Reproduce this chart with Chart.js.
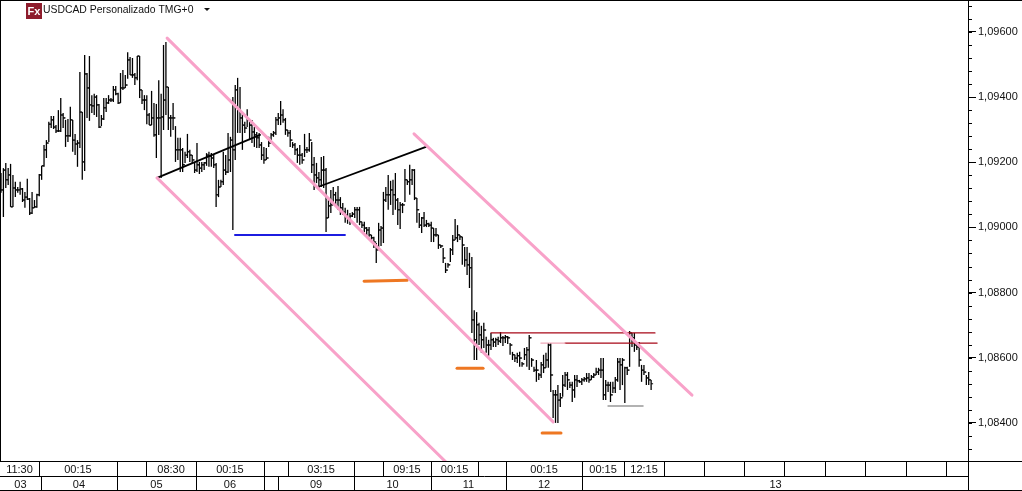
<!DOCTYPE html>
<html lang="pt-BR">
<head>
  <meta charset="UTF-8">
  <title>USDCAD Personalizado TMG+0</title>
  <script src="https://cdn.jsdelivr.net/npm/chart.js"></script>
  <style>
    html, body { margin: 0; padding: 0; background: #fff; }
    #box { position: relative; width: 1022px; height: 491px; }
  </style>
</head>
<body>
  <div id="box"><canvas id="grafico"></canvas></div>

  <script>
    // price series, one value per bar
    const highs = [
      1.09167,1.09182,1.09198,1.09182,1.09195,1.09161,1.09140,1.09124,1.09140,1.09121,
      1.09109,1.09149,1.09090,1.09109,1.09084,1.09103,1.09164,1.09189,1.09253,1.09268,
      1.09324,1.09342,1.09342,1.09314,1.09360,1.09397,1.09351,1.09330,1.09333,1.09370,
      1.09330,1.09287,1.09268,1.09477,1.09354,1.09529,1.09474,1.09526,1.09406,1.09410,
      1.09406,1.09379,1.09345,1.09397,1.09397,1.09406,1.09397,1.09434,1.09434,1.09413,
      1.09474,1.09483,1.09468,1.09538,1.09523,1.09520,1.09474,1.09526,1.09526,1.09422,
      1.09406,1.09406,1.09351,1.09419,1.09382,1.09379,1.09452,1.09410,1.09560,1.09569,
      1.09431,1.09345,1.09382,1.09311,1.09275,1.09275,1.09244,1.09232,1.09287,1.09238,
      1.09222,1.09201,1.09259,1.09201,1.09201,1.09201,1.09228,1.09232,1.09228,1.09222,
      1.09198,1.09146,1.09146,1.09232,1.09222,1.09290,1.09278,1.09400,1.09437,1.09459,
      1.09431,1.09354,1.09324,1.09363,1.09330,1.09330,1.09308,1.09293,1.09290,1.09262,
      1.09247,1.09244,1.09278,1.09290,1.09296,1.09339,1.09351,1.09388,1.09363,1.09336,
      1.09299,1.09299,1.09262,1.09259,1.09244,1.09253,1.09228,1.09287,1.09247,1.09290,
      1.09262,1.09216,1.09198,1.09170,1.09216,1.09219,1.09182,1.09084,1.09115,1.09124,
      1.09109,1.09127,1.09093,1.09075,1.09060,1.09054,1.09044,1.09047,1.09063,1.09063,
      1.09063,1.09017,1.09017,1.09001,1.09001,1.08977,1.08971,1.08952,1.09014,1.09004,
      1.09109,1.09124,1.09161,1.09143,1.09146,1.09167,1.09090,1.09078,1.09075,1.09179,
      1.09146,1.09192,1.09179,1.09179,1.09090,1.09044,1.09032,1.09047,1.09023,1.09014,
      1.09017,1.08998,1.08998,1.08977,1.08946,1.08937,1.08891,1.08891,1.08937,1.08977,
      1.09026,1.09007,1.08977,1.08971,1.08940,1.08940,1.08922,1.08909,1.08746,1.08740,
      1.08707,1.08698,1.08707,1.08664,1.08655,1.08676,1.08661,1.08661,1.08664,1.08679,
      1.08667,1.08670,1.08667,1.08645,1.08618,1.08609,1.08615,1.08618,1.08587,1.08630,
      1.08633,1.08670,1.08599,1.08572,1.08593,1.08553,1.08587,1.08609,1.08615,1.08645,
      1.08645,1.08501,1.08501,1.08516,1.08492,1.08547,1.08556,1.08556,1.08526,1.08526,
      1.08547,1.08547,1.08532,1.08538,1.08541,1.08553,1.08553,
      1.08547,1.08553,1.08569,1.08569,
      1.08599,1.08599,1.08532,1.08526,1.08526,1.08526,1.08541,
      1.08599,1.08599,1.08599,1.08572,1.08572,1.08682,1.08676,1.08676,1.08645,1.08648,
      1.08578,1.08578,1.08547,1.08556,1.08532
    ];
    const lows = [
      1.09106,1.09032,1.09121,1.09130,1.09063,1.09063,1.09093,1.09106,1.09100,1.09078,
      1.09060,1.09084,1.09038,1.09041,1.09060,1.09060,1.09096,1.09146,1.09186,1.09213,
      1.09262,1.09305,1.09302,1.09290,1.09293,1.09293,1.09305,1.09247,1.09262,1.09278,
      1.09232,1.09222,1.09186,1.09244,1.09146,1.09173,1.09336,1.09327,1.09351,1.09345,
      1.09339,1.09305,1.09311,1.09330,1.09354,1.09379,1.09385,1.09385,1.09406,1.09379,
      1.09382,1.09422,1.09428,1.09456,1.09468,1.09459,1.09437,1.09452,1.09397,1.09379,
      1.09360,1.09317,1.09314,1.09314,1.09278,1.09213,1.09284,1.09152,1.09299,1.09345,
      1.09299,1.09278,1.09299,1.09201,1.09207,1.09170,1.09170,1.09198,1.09213,1.09201,
      1.09198,1.09167,1.09170,1.09164,1.09170,1.09176,1.09189,1.09186,1.09186,1.09182,
      1.09063,1.09093,1.09124,1.09130,1.09161,1.09167,1.09170,1.08992,1.09207,1.09290,
      1.09290,1.09238,1.09290,1.09308,1.09268,1.09259,1.09247,1.09244,1.09244,1.09207,
      1.09195,1.09207,1.09247,1.09268,1.09278,1.09284,1.09314,1.09314,1.09321,1.09284,
      1.09278,1.09247,1.09244,1.09222,1.09198,1.09192,1.09195,1.09216,1.09228,1.09232,
      1.09167,1.09115,1.09136,1.09115,1.09124,1.09121,1.08986,1.09029,1.09044,1.09069,
      1.09063,1.09054,1.09038,1.09038,1.09014,1.09011,1.09007,1.09032,1.09029,1.09014,
      1.09007,1.08998,1.08986,1.08977,1.08971,1.08961,1.08937,1.08891,1.08940,1.08943,
      1.08952,1.09078,1.09054,1.09069,1.09038,1.09054,1.09007,1.08995,1.09044,1.09078,
      1.09130,1.09100,1.09130,1.09084,1.09014,1.08998,1.08983,1.09001,1.09001,1.09001,
      1.08955,1.08955,1.08971,1.08934,1.08937,1.08891,1.08860,1.08876,1.08894,1.08915,
      1.08961,1.08955,1.08961,1.08885,1.08879,1.08854,1.08814,1.08676,1.08593,1.08593,
      1.08639,1.08615,1.08630,1.08615,1.08606,1.08624,1.08633,1.08633,1.08639,1.08645,
      1.08636,1.08645,1.08642,1.08609,1.08593,1.08587,1.08584,1.08572,1.08572,1.08593,
      1.08572,1.08562,1.08572,1.08556,1.08526,1.08532,1.08538,1.08553,1.08569,1.08569,
      1.08495,1.08415,1.08400,1.08400,1.08449,1.08480,1.08510,1.08501,1.08507,1.08464,
      1.08477,1.08510,1.08523,1.08516,1.08526,1.08526,1.08523,
      1.08532,1.08538,1.08547,1.08547,
      1.08538,1.08470,1.08470,1.08495,1.08464,1.08492,1.08492,
      1.08526,1.08501,1.08516,1.08461,1.08547,1.08572,1.08633,1.08618,1.08624,1.08572,
      1.08526,1.08547,1.08516,1.08516,1.08501
    ];
    const closes = [
      1.09115,1.09176,1.09146,1.09161,1.09063,1.09121,1.09115,1.09115,1.09118,1.09084,
      1.09093,1.09087,1.09044,1.09060,1.09063,1.09100,1.09161,1.09189,1.09238,1.09259,
      1.09317,1.09330,1.09308,1.09296,1.09296,1.09345,1.09336,1.09281,1.09281,1.09330,
      1.09268,1.09256,1.09259,1.09354,1.09201,1.09471,1.09428,1.09376,1.09373,1.09400,
      1.09376,1.09308,1.09333,1.09367,1.09382,1.09391,1.09391,1.09422,1.09410,1.09382,
      1.09428,1.09428,1.09437,1.09514,1.09468,1.09468,1.09459,1.09526,1.09422,1.09391,
      1.09391,1.09345,1.09314,1.09336,1.09284,1.09336,1.09336,1.09339,1.09391,1.09431,
      1.09336,1.09336,1.09336,1.09238,1.09238,1.09238,1.09192,1.09222,1.09232,1.09222,
      1.09207,1.09176,1.09192,1.09182,1.09192,1.09198,1.09222,1.09219,1.09213,1.09192,
      1.09100,1.09124,1.09140,1.09176,1.09170,1.09207,1.09268,1.09238,1.09422,1.09360,
      1.09336,1.09314,1.09305,1.09330,1.09314,1.09293,1.09284,1.09275,1.09253,1.09222,
      1.09207,1.09213,1.09259,1.09284,1.09290,1.09330,1.09336,1.09345,1.09330,1.09299,
      1.09290,1.09268,1.09253,1.09238,1.09222,1.09222,1.09207,1.09238,1.09238,1.09268,
      1.09192,1.09161,1.09152,1.09146,1.09176,1.09176,1.09029,1.09066,1.09069,1.09100,
      1.09084,1.09084,1.09060,1.09047,1.09038,1.09029,1.09035,1.09041,1.09054,1.09054,
      1.09017,1.09007,1.08998,1.08992,1.08977,1.08968,1.08955,1.08931,1.08992,1.08998,
      1.09084,1.09100,1.09100,1.09115,1.09100,1.09084,1.09054,1.09069,1.09069,1.09146,
      1.09140,1.09146,1.09176,1.09090,1.09054,1.09007,1.09029,1.09007,1.09011,1.09007,
      1.08998,1.08977,1.08977,1.08946,1.08943,1.08906,1.08869,1.08885,1.08931,1.08961,
      1.08968,1.08977,1.08971,1.08946,1.08900,1.08885,1.08876,1.08716,1.08655,1.08701,
      1.08670,1.08655,1.08685,1.08639,1.08639,1.08655,1.08648,1.08655,1.08651,1.08661,
      1.08661,1.08664,1.08661,1.08639,1.08609,1.08599,1.08606,1.08599,1.08581,1.08609,
      1.08624,1.08661,1.08593,1.08562,1.08562,1.08547,1.08578,1.08569,1.08593,1.08639,
      1.08547,1.08486,1.08486,1.08470,1.08477,1.08516,1.08547,1.08532,1.08516,1.08501,
      1.08532,1.08529,1.08526,1.08532,1.08535,1.08538,1.08532,
      1.08541,1.08547,1.08556,1.08562,
      1.08562,1.08486,1.08516,1.08516,1.08486,1.08507,1.08532,
      1.08587,1.08578,1.08593,1.08569,1.08562,1.08676,1.08661,1.08639,1.08633,1.08593,
      1.08562,1.08556,1.08538,1.08532,1.08520
    ];

    const yTicks = [1.084, 1.086, 1.088, 1.090, 1.092, 1.094, 1.096];
    const yMinorTicks = [1.0832, 1.0836, 1.084, 1.0844, 1.0848, 1.0852, 1.0856, 1.086, 1.0864, 1.0868, 1.0872, 1.0876,
      1.088, 1.0884, 1.0888, 1.0892, 1.0896, 1.09, 1.0904, 1.0908, 1.0912, 1.0916, 1.092, 1.0924, 1.0928, 1.0932,
      1.0936, 1.094, 1.0944, 1.0948, 1.0952, 1.0956, 1.096, 1.0964, 1.0968];

    // time row: cell edges in bar numbers and the text of each cell
    const timeEdges = [-0.42, 15.9, 48.5, 60.7, 81.6, 110, 120.1, 147.7, 159.8, 179.9, 199.6, 211.3, 243.1, 260.7,
      277.4, 294.1, 310.9, 327.6, 344.8, 361.5, 378.7, 395.4, 405];
    const timeLabels = ['11:30', '00:15', '', '08:30', '00:15', '', '03:15', '', '09:15', '00:15', '', '00:15', '00:15', '12:15',
      '', '', '', '', '', '', '', ''];
    // day row
    const dayEdges = [-0.42, 16.7, 48.5, 81.6, 110, 115.9, 147.7, 179.9, 211.3, 243.1, 405];
    const dayLabels = ['03', '04', '05', '06', '', '09', '10', '11', '12', '13'];

    // drawn lines: bar numbers and prices of the two ends
    const channelLowBars = [65.3, 190];
    const channelLowPrices = [1.09152, 1.08252];
    const channelMidBars = [69.5, 231];
    const channelMidPrices = [1.09581, 1.08403];
    const channelTopBars = [172.8, 289.1];
    const channelTopPrices = [1.09287, 1.08485];
    const blackABars = [65.3, 108.4];
    const blackAPrices = [1.09152, 1.09284];
    const blackBBars = [132.6, 177.8];
    const blackBPrices = [1.09124, 1.09247];
    const blueBars = [97.9, 143.9];
    const bluePrices = [1.08977, 1.08977];
    const orangeABars = [151.9, 169.9];
    const orangeAPrices = [1.08835, 1.08838];
    const orangeBBars = [190.8, 201.7];
    const orangeBPrices = [1.08568, 1.08568];
    const orangeCBars = [226.4, 234.3];
    const orangeCPrices = [1.08369, 1.08369];
    const redABars = [205, 273.6];
    const redAPrices = [1.08676, 1.08676];
    const redBBars = [236, 274.5];
    const redBPrices = [1.08645, 1.08645];
    const paleBars = [225.9, 236];
    const palePrices = [1.08645, 1.08645];
    const grayBars = [254, 268.6];
    const grayPrices = [1.08452, 1.08452];

    function linha(bars, prices, cor, largura) {
      return {
        type: 'line',
        data: bars.map((b, i) => ({ x: b, y: prices[i] })),
        borderColor: cor,
        borderWidth: largura,
        pointRadius: 0,
        borderCapStyle: 'round',
        order: 0
      };
    }

    const FONTE = '11px "Liberation Sans"';

    // grid under the chart, left/top frame, minor ticks and the header
    const moldura = {
      id: 'moldura',
      afterDraw(chart) {
        const ctx = chart.ctx;
        const area = chart.chartArea;
        const x = chart.scales.x;
        const y = chart.scales.y;
        const W = chart.width;
        const yLinha1 = Math.round(area.bottom) + 0.5;
        const yLinha2 = yLinha1 + 15;
        const yLinha3 = yLinha1 + 29;

        ctx.save();
        ctx.strokeStyle = '#000';
        ctx.lineWidth = 1;
        ctx.beginPath();
        ctx.moveTo(0, 0.5); ctx.lineTo(W, 0.5);
        ctx.moveTo(0.5, 0); ctx.lineTo(0.5, yLinha1);
        ctx.moveTo(0, yLinha1); ctx.lineTo(W, yLinha1);
        ctx.moveTo(0, yLinha2); ctx.lineTo(area.right, yLinha2);
        ctx.moveTo(0, yLinha3); ctx.lineTo(W, yLinha3);
        ctx.moveTo(Math.round(area.right) - 0.5, 0); ctx.lineTo(Math.round(area.right) - 0.5, yLinha3);
        timeEdges.slice(1, -1).forEach(e => {
          const p = Math.round(x.getPixelForValue(e)) + 0.5;
          ctx.moveTo(p, yLinha1); ctx.lineTo(p, yLinha2);
        });
        dayEdges.slice(1, -1).forEach(e => {
          const p = Math.round(x.getPixelForValue(e)) + 0.5;
          ctx.moveTo(p, yLinha2); ctx.lineTo(p, yLinha3);
        });
        yMinorTicks.forEach(v => {
          const p = Math.round(y.getPixelForValue(v)) + 0.5;
          ctx.moveTo(area.right - 1, p); ctx.lineTo(area.right + 3, p);
        });
        ctx.stroke();

        ctx.fillStyle = '#111';
        ctx.font = FONTE;
        ctx.textAlign = 'center';
        ctx.textBaseline = 'middle';
        timeLabels.forEach((t, i) => {
          const c = (x.getPixelForValue(timeEdges[i]) + x.getPixelForValue(timeEdges[i + 1])) / 2;
          ctx.fillText(t, c, yLinha1 + 8);
        });
        dayLabels.forEach((t, i) => {
          const c = (x.getPixelForValue(dayEdges[i]) + x.getPixelForValue(dayEdges[i + 1])) / 2;
          ctx.fillText(t, c, yLinha2 + 8);
        });

        // header
        ctx.fillStyle = '#8e1c2c';
        ctx.fillRect(26, 3, 16, 16);
        ctx.fillStyle = '#fff';
        ctx.font = 'bold 11px "Liberation Sans"';
        ctx.fillText('Fx', 34, 12);
        ctx.fillStyle = '#111';
        ctx.font = '10.4px "Liberation Sans"';
        ctx.textAlign = 'left';
        ctx.fillText('USDCAD Personalizado TMG+0', 43, 10.5);
        ctx.beginPath();
        ctx.moveTo(204, 8); ctx.lineTo(210, 8); ctx.lineTo(207, 11);
        ctx.closePath();
        ctx.fill();
        ctx.restore();
      }
    };

    new Chart(document.getElementById('grafico'), {
      type: 'bar',
      data: {
        datasets: [
          linha(channelLowBars, channelLowPrices, '#f8a2c9', 3),
          linha(channelMidBars, channelMidPrices, '#f8a2c9', 3),
          linha(channelTopBars, channelTopPrices, '#f8a2c9', 3),
          linha(blackABars, blackAPrices, '#000', 1.8),
          linha(blackBBars, blackBPrices, '#000', 1.8),
          linha(blueBars, bluePrices, '#1c1ce0', 2),
          linha(orangeABars, orangeAPrices, '#ee7722', 3),
          linha(orangeBBars, orangeBPrices, '#ee7722', 3),
          linha(orangeCBars, orangeCPrices, '#ee7722', 3),
          linha(redABars, redAPrices, '#a80818', 1.3),
          linha(paleBars, palePrices, '#f0a8b8', 1.3),
          linha(redBBars, redBPrices, '#a80818', 1.3),
          linha(grayBars, grayPrices, '#999', 1.5),
          {
            type: 'bar',
            data: highs.map((h, i) => ({ x: i, y: [lows[i], h] })),
            backgroundColor: '#000',
            barThickness: 1.3,
            inflateAmount: 0,
            order: 1
          },
          {
            // close tick, to the right of the bar
            type: 'line',
            data: closes.map((c, i) => ({ x: i, y: c })),
            showLine: false,
            pointStyle: 'dash',
            pointRadius: 2,
            pointRotation: 0,
            pointBorderWidth: 1,
            pointBorderColor: '#000',
            order: 1
          },
          {
            // open tick, to the left of the bar (open taken as the previous close)
            type: 'line',
            data: closes.slice(0, -1).map((c, i) => ({ x: i + 1, y: c })),
            showLine: false,
            pointStyle: 'dash',
            pointRadius: 2,
            pointRotation: 180,
            pointBorderWidth: 1,
            pointBorderColor: '#000',
            order: 1
          }
        ]
      },
      options: {
        responsive: true,
        maintainAspectRatio: false,
        animation: false,
        layout: { autoPadding: false, padding: { bottom: 30 } },
        plugins: { legend: { display: false }, tooltip: { enabled: false } },
        events: [],
        scales: {
          x: {
            type: 'linear',
            display: false,
            offset: false,
            min: -0.42,
            max: 405,
            grid: { display: false }
          },
          y: {
            position: 'right',
            min: 1.08283,
            max: 1.09698,
            grid: { drawOnChartArea: false, drawTicks: true, tickLength: 7, tickColor: '#000' },
            border: { display: false },
            afterBuildTicks: scale => { scale.ticks = yTicks.map(v => ({ value: v })); },
            // no room kept above the axis for the first label
            afterFit: scale => { scale.width = 53; scale.paddingTop = 0; scale.paddingBottom = 0; },
            ticks: {
              autoSkip: false,
              padding: 2,
              color: '#111',
              font: { family: 'Liberation Sans', size: 11 },
              callback: v => v.toFixed(5).replace('.', ',')
            }
          }
        }
      },
      plugins: [moldura]
    });
  </script>
</body>
</html>
